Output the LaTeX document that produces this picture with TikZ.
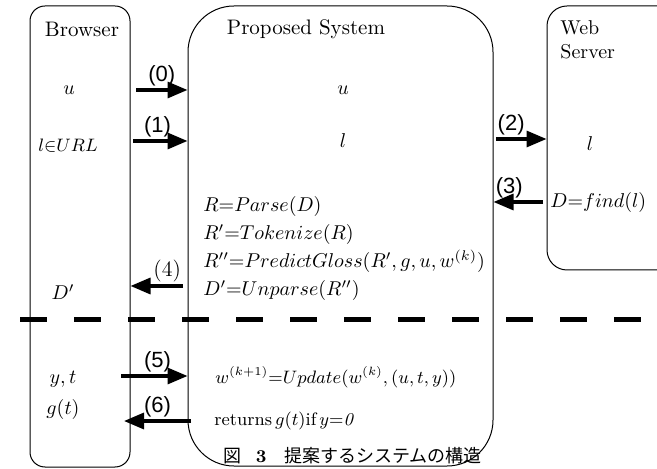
\documentclass[tikz,border=0pt]{standalone}
\usepackage{amsmath}
\usepackage{amssymb}
\usepackage{fontspec}
\newfontfamily\labelfont{Liberation Sans}
\newfontfamily\jpfont{Noto Sans CJK JP}
\usetikzlibrary{positioning, arrows.meta}

\begin{document}
\begin{tikzpicture}[x=0.5pt, y=-0.5pt, node distance=14pt,
    lane/.style={draw, line width=0.5pt, inner sep=0pt},
    flow/.style={line width=1.6pt, -{Triangle[length=10pt, width=8pt]}},
    num/.style={font=\labelfont\fontsize{11}{13}\selectfont, inner sep=1pt}]
        \clip (0,0) rectangle (657,469);

        % the three parts
        \node[lane, rounded corners=7.5pt, minimum width=50pt, minimum height=230.5pt]   (browser) at (80,236.5) {};
        \node[lane, rounded corners=23pt, minimum width=152.5pt, minimum height=230pt]   (proxy)   at (340.5,236) {};
        \node[lane, rounded corners=10pt, minimum width=76.5pt, minimum height=132pt]    (server)  at (623.5,138) {};

        \node[font=\fontsize{10.5}{12}\selectfont] (browserT) at (82,29)  {Browser};
        \node[font=\fontsize{10.5}{12}\selectfont] (proxyT)   at (306,29) {Proposed System};
        \node[align=left, anchor=north west, inner sep=0pt] (serverT) at (560,20) {Web\\Server};

        % browser side
        \node (bu)  at (69,90)  {$u$};
        \node (bl)  at (68,146) {\small$l{\in}URL$};
        \node (bD)  at (63,292) {$D'$};
        \node (byt) at (63,379) {$y,t$};
        \node (bg)  at (63,409) {$g(t)$};

        % proposed system
        \node (pu) at (343,90)  {$u$};
        \node (pl) at (343,141) {$l$};
        \node[anchor=base west, inner sep=0pt] (e1) at (203,212) {$R{=}Parse(D)$};
        \node[below=of e1.base west, anchor=base west, inner sep=0pt] (e2) {$R'{=}Tokenize(R)$};
        \node[below=of e2.base west, anchor=base west, inner sep=0pt] (e3) {$R''{=}PredictGloss(R',g,u,w^{(k)})$};
        \node[below=of e3.base west, anchor=base west, inner sep=0pt] (e4) {$D'{=}Unparse(R'')$};
        \node[anchor=west, inner sep=0pt] (upd) at (215,377) {\small$w^{(k+1)}{=}Update(w^{(k)},(u,t,y))$};
        \node[anchor=west, inner sep=0pt] (ret) at (214,421) {\small returns\,$g(t)$if\,$y{=}\mathit{0}$};

        % web server
        \node (sl) at (590,144) {$l$};
        \node[anchor=west, inner sep=0pt] (sD) at (550,203) {$D{=}find(l)$};

        % free ends of the arrows
        \coordinate (s0) at (136,90);
        \coordinate (s1) at (133,141);
        \coordinate (s2) at (496,139);
        \coordinate (s3) at (543,202);
        \coordinate (s4) at (183,286);
        \coordinate (s5) at (121,376);
        \coordinate (s6) at (191,421);
        \coordinate (e6) at (124,421);

        \draw[flow] (s0) -- node[num, above] (n0) {(0)} (s0 -| proxy.west);
        \draw[flow] (s1) -- node[num, above, pos=0.45] (n1) {(1)} (s1 -| proxy.west);
        \draw[flow] (s2) -- node[num, above, pos=0.3] (n2) {(2)} (s2 -| server.west);
        \draw[flow] (s3) -- node[num, above, pos=0.68] (n3) {(3)} (s3 -| proxy.east);
        \draw[flow] (s4) -- node[above, pos=0.3, inner sep=1pt, font=\fontsize{11}{13}\selectfont] (n4) {(4)} (s4 -| browser.east);
        \draw[flow] (s5) -- node[num, above, pos=0.55] (n5) {(5)} (s5 -| proxy.west);
        \draw[flow] (s6) -- node[num, above, pos=0.5] (n6) {(6)} (e6);

        % split line
        \coordinate (cutL) at (20,320);
        \coordinate (cutR) at (700,320);
        \draw[line width=2.5pt, dash pattern=on 13.5pt off 13.5pt] (cutL) -- (cutR);

        \node[anchor=west, inner sep=0pt] (caption) at (223,456) {\fontsize{9}{11}\selectfont\jpfont 図\hspace{0.8em}{\rmfamily\bfseries 3}\hspace{1em}提案するシステムの構造};
      \end{tikzpicture}
\end{document}
